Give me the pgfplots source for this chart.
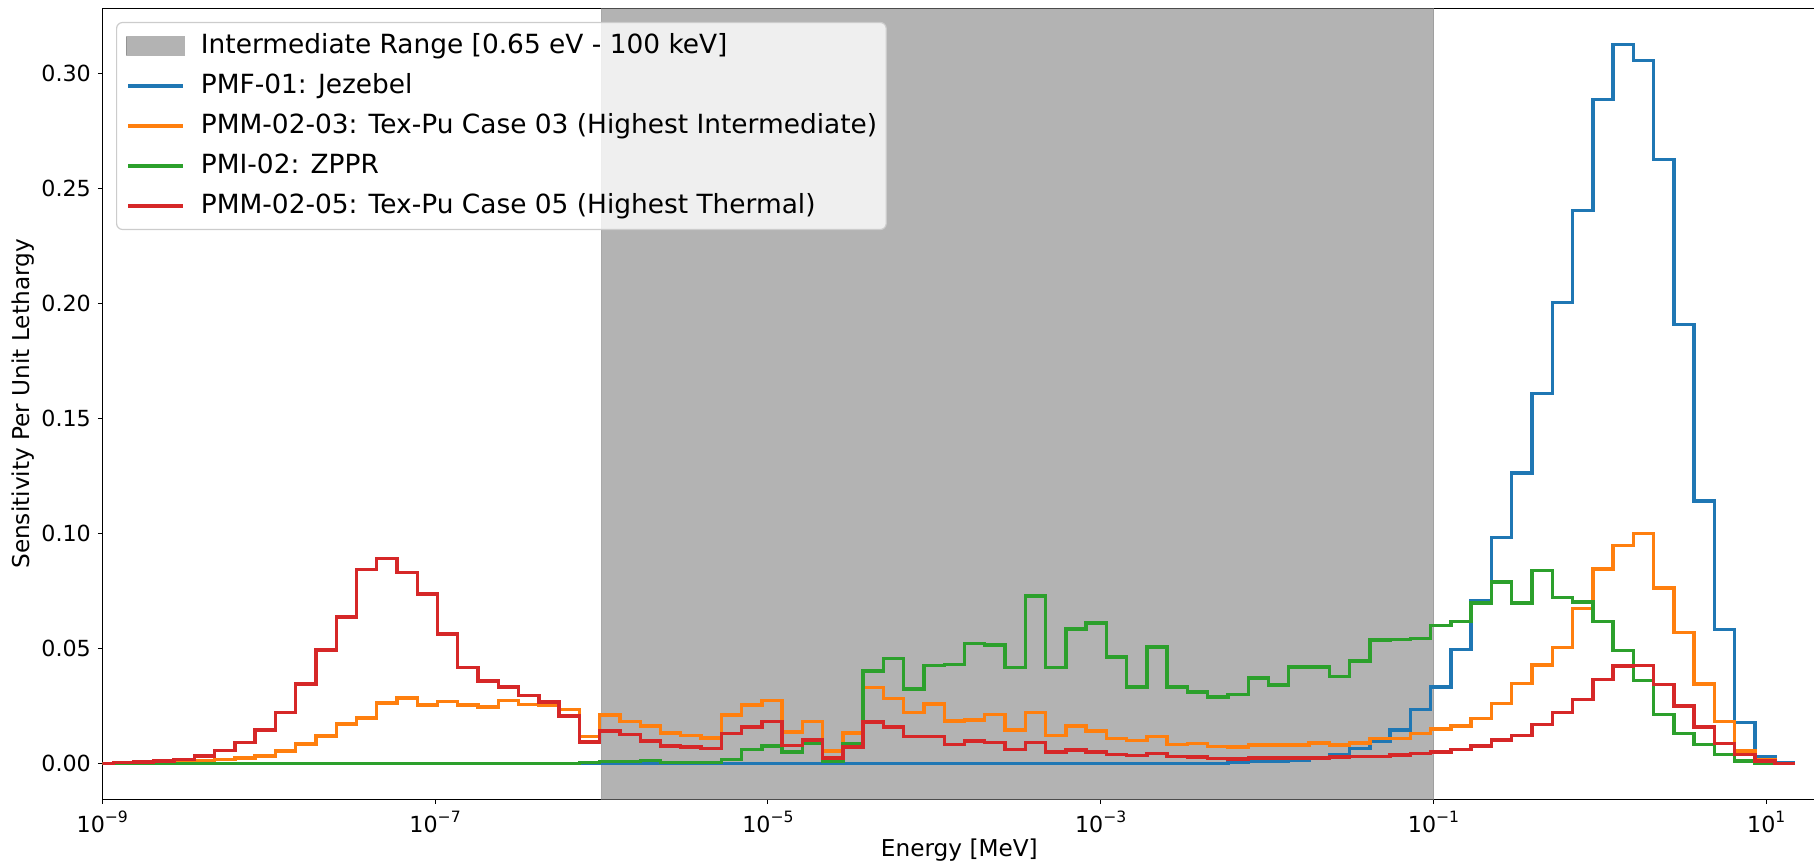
\documentclass[border=0pt]{standalone}
\usepackage{fontspec}
\setmainfont{DejaVu Sans}
\usepackage{pgfplots}
\usepackage{pgfplotstable}
\pgfplotsset{compat=1.18}
\definecolor{tabblue}{HTML}{1F77B4}
\definecolor{taborange}{HTML}{FF7F0E}
\definecolor{tabgreen}{HTML}{2CA02C}
\definecolor{tabred}{HTML}{D62728}
\definecolor{legedge}{HTML}{CCCCCC}
\newcommand{\sexp}[1]{10\raisebox{0.45em}{\fontsize{7.8}{9}\selectfont #1}}
\pgfplotsset{
  linelegend/.style={legend image code/.code={\draw[##1, sharp corners] (0pt,0pt) -- (27.5pt,0pt); \path (35.5pt,0pt);}},
  spanlegend/.style={legend image code/.code={\draw[##1, sharp corners] (-1pt,-4.6pt) rectangle (28pt,4.6pt); \path (35.5pt,0pt);}},
}

% bin left edges (log10 of energy in MeV) and sensitivity per unit lethargy
\pgfplotstableread{
x b o g r
-9.056 0 0 0 0.0001
-8.934 0 0 0 0.0004
-8.812 0 0.0001 0 0.0007
-8.691 0 0.0003 0 0.0011
-8.569 0 0.0008 0 0.0018
-8.447 0 0.0011 0 0.0033
-8.325 0 0.0018 0 0.0057
-8.203 0 0.0025 0 0.0091
-8.082 0 0.0033 0 0.0146
-7.960 0 0.0054 0 0.0221
-7.838 0 0.0086 0 0.0347
-7.716 0 0.0120 0 0.0493
-7.594 0 0.0173 0 0.0638
-7.473 0 0.0199 0 0.0844
-7.351 0 0.0264 0 0.0892
-7.229 0 0.0286 0 0.0830
-7.107 0 0.0254 0 0.0738
-6.985 0 0.0269 0 0.0564
-6.864 0 0.0254 0 0.0417
-6.742 0 0.0247 0 0.0359
-6.620 0 0.0275 0 0.0333
-6.498 0 0.0257 0 0.0297
-6.376 0 0.0255 0 0.0267
-6.255 0 0.0236 0 0.0207
-6.133 0 0.0117 0.0005 0.0094
-6.011 0 0.0211 0.0009 0.0141
-5.889 0 0.0182 0.0009 0.0127
-5.767 0 0.0163 0.0014 0.0098
-5.646 0 0.0134 0.0005 0.0076
-5.524 0 0.0122 0.0005 0.0072
-5.402 0 0.0112 0.0005 0.0066
-5.280 0 0.0211 0.0017 0.0130
-5.158 0 0.0254 0.0062 0.0160
-5.037 0 0.0275 0.0076 0.0182
-4.915 0 0.0137 0.0050 0.0079
-4.793 0 0.0182 0.0089 0.0102
-4.671 0 0.0054 0.0011 0.0025
-4.549 0 0.0134 0.0088 0.0073
-4.428 0 0.0330 0.0402 0.0180
-4.306 0 0.0283 0.0457 0.0159
-4.184 0 0.0221 0.0325 0.0117
-4.062 0 0.0260 0.0427 0.0117
-3.940 0 0.0185 0.0431 0.0083
-3.819 0 0.0189 0.0521 0.0098
-3.697 0 0.0214 0.0515 0.0092
-3.575 0 0.0146 0.0417 0.0062
-3.453 0 0.0221 0.0728 0.0091
-3.331 0 0.0122 0.0417 0.0051
-3.210 0 0.0163 0.0586 0.0059
-3.088 0 0.0141 0.0612 0.0051
-2.966 0 0.0108 0.0464 0.0040
-2.844 0 0.0101 0.0334 0.0036
-2.722 0 0.0117 0.0507 0.0044
-2.601 0 0.0083 0.0334 0.0030
-2.479 0 0.0088 0.0312 0.0028
-2.357 0 0.0075 0.0289 0.0022
-2.235 0.0005 0.0072 0.0301 0.0020
-2.113 0.0008 0.0080 0.0373 0.0024
-1.992 0.0012 0.0080 0.0341 0.0024
-1.870 0.0015 0.0080 0.0420 0.0024
-1.748 0.0022 0.0089 0.0420 0.0025
-1.626 0.0040 0.0080 0.0378 0.0028
-1.504 0.0066 0.0089 0.0446 0.0030
-1.383 0.0098 0.0110 0.0538 0.0030
-1.261 0.0147 0.0109 0.0540 0.0037
-1.139 0.0236 0.0130 0.0544 0.0043
-1.017 0.0334 0.0150 0.0601 0.0051
-0.895 0.0496 0.0163 0.0617 0.0062
-0.774 0.0709 0.0196 0.0699 0.0076
-0.652 0.0982 0.0262 0.0789 0.0102
-0.530 0.1264 0.0349 0.0699 0.0122
-0.408 0.1608 0.0428 0.0839 0.0170
-0.286 0.2004 0.0504 0.0721 0.0221
-0.165 0.2404 0.0675 0.0702 0.0279
-0.043 0.2888 0.0847 0.0617 0.0366
0.079 0.3127 0.0948 0.0492 0.0424
0.201 0.3057 0.1001 0.0362 0.0427
0.323 0.2626 0.0764 0.0214 0.0344
0.444 0.1909 0.0569 0.0130 0.0250
0.566 0.1141 0.0347 0.0083 0.0160
0.688 0.0583 0.0182 0.0040 0.0088
0.810 0.0178 0.0054 0.0011 0.0040
0.932 0.0030 0.0015 0.0001 0.0011
1.053 0.0005 0.0001 0.0000 0.0001
1.175 0.0005 0.0001 0.0000 0.0001
}\datatable

\begin{document}
\begin{tikzpicture}
\begin{axis}[
  scale only axis,
  width=857.05pt, height=395.5pt,
  xmin=-9, xmax=1.30103,
  ymin=-0.0156, ymax=0.3283,
  axis line style={line width=0.55pt},
  tick align=outside, tick pos=left,
  major tick length=2.2pt,
  every tick/.style={black, line width=0.55pt},
  xtick={-9,-7,-5,-3,-1,1},
  xticklabels={\sexp{−9},\sexp{−7},\sexp{−5},\sexp{−3},\sexp{−1},\sexp{1}},
  ytick={0,0.05,0.10,0.15,0.20,0.25,0.30},
  yticklabels={0.00,0.05,0.10,0.15,0.20,0.25,0.30},
  minor tick num=0,
  /pgf/number format/assume math mode=true,
  ticklabel style={font=\fontsize{11.1}{13}\selectfont},
  xlabel={Energy [MeV]},
  ylabel={Sensitivity Per Unit Lethargy},
  every axis x label/.style={at={(axis description cs:0.5,0)}, anchor=center, yshift=-25.5pt, font=\fontsize{11.6}{13.5}\selectfont},
  every axis y label/.style={at={(axis description cs:0,0.5)}, xshift=-39.5pt, rotate=90, anchor=center, font=\fontsize{11.6}{13.5}\selectfont},
  legend cell align=left,
  linelegend,
  legend style={
    at={(0.008,0.983)}, anchor=north west,
    fill=white, fill opacity=0.8, draw opacity=1, text opacity=1,
    draw=legedge, line width=0.6pt, rounded corners=3pt,
    font=\fontsize{13.2}{15.5}\selectfont,
    inner xsep=4.5pt, inner ysep=5.5pt,
    row sep=7.5pt,
    nodes={inner sep=0pt, text height=9.8pt, text depth=2.7pt},
  },
]
\addplot[draw=gray, fill=gray, opacity=0.6, line width=0.6pt, spanlegend]
  coordinates {(-6,-1) (-1,-1) (-1,1) (-6,1) (-6,-1)};
\addlegendentry{Intermediate Range [0.65 eV - 100 keV]}
\addplot[const plot mark left, tabblue, line width=1.75pt] table[x=x, y=b] {\datatable};
\addlegendentry{PMF-01: Jezebel}
\addplot[const plot mark left, taborange, line width=1.75pt] table[x=x, y=o] {\datatable};
\addlegendentry{PMM-02-03: Tex-Pu Case 03 (Highest Intermediate)}
\addplot[const plot mark left, tabgreen, line width=1.75pt] table[x=x, y=g] {\datatable};
\addlegendentry{PMI-02: ZPPR}
\addplot[const plot mark left, tabred, line width=1.75pt] table[x=x, y=r] {\datatable};
\addlegendentry{PMM-02-05: Tex-Pu Case 05 (Highest Thermal)}
\end{axis}
\pgfresetboundingbox
\path[use as bounding box] ([xshift=-51.15pt,yshift=-32.25pt]current axis.south west) rectangle ([xshift=-1.2pt,yshift=4.25pt]current axis.north east);
\end{tikzpicture}
\end{document}
